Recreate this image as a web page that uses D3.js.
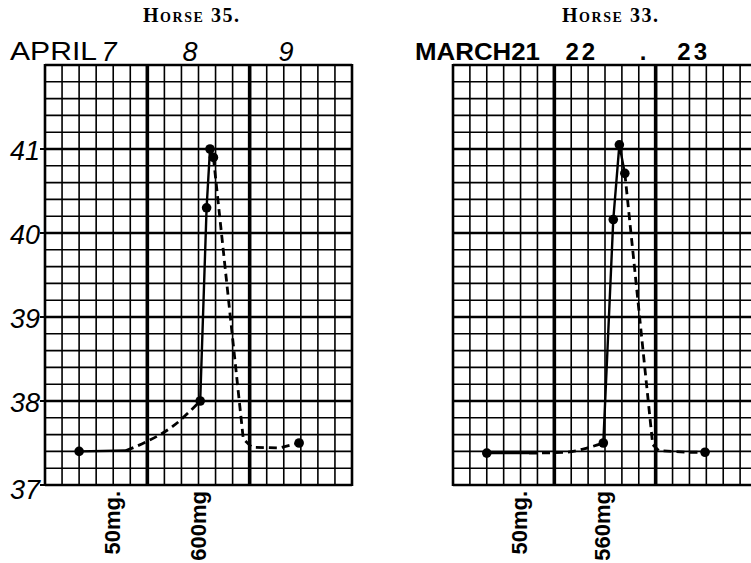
<!DOCTYPE html>
<html>
<head>
<meta charset="utf-8">
<script src="https://cdn.jsdelivr.net/npm/d3@7"></script>
<style>
  html, body { margin: 0; padding: 0; background: #fff; }
  svg { display: block; }
</style>
</head>
<body>
<svg id="chart" width="751" height="563"></svg>
<script>
// ---------- DATA ----------
// hours after midnight of the first day (3 days = 72 h), temperature in °C
const titles = ["Horse 35.", "Horse 33."];
const monthLabels = ["APRIL", "MARCH21"];
const dayLabelsLeft = ["7", "8", "9"];
const dayLabelHoursLeft = [15, 34, 56.5];
const dayLabelsRight = ["22", ".", "23"];
const dayLabelHoursRight = [30.5, 45, 57];
const yTickValues = [41, 40, 39, 38, 37];
const doseLabelsLeft = ["50mg.", "600mg"];
const doseHoursLeft = [17.7, 37.7];
const doseLabelsRight = ["50mg.", "560mg"];
const doseHoursRight = [17.5, 37.2];

// Horse 35 — measured points (dots)
const horse35Hours = [8, 36.4, 37.9, 38.7, 39.5, 59.6];
const horse35Temps = [37.4, 38.0, 40.3, 41.0, 40.9, 37.5];
// Horse 35 — traced path pieces (hours, temps)
const h35SolidStartH = [8, 19];
const h35SolidStartT = [37.4, 37.41];
const h35DashRiseH = [19, 24, 30, 36.4];
const h35DashRiseT = [37.41, 37.52, 37.7, 38.0];
const h35SolidPeakH = [36.4, 37.9, 38.7, 39.5];
const h35SolidPeakT = [38.0, 40.3, 41.0, 40.9];
const h35DashFallH = [39.5, 46.5, 48.5, 55, 59.6];
const h35DashFallT = [40.9, 37.55, 37.45, 37.44, 37.5];

// Horse 33 — measured points (dots)
const horse33Hours = [8, 35.6, 37.96, 39.4, 40.7, 59.7];
const horse33Temps = [37.38, 37.5, 40.16, 41.05, 40.71, 37.39];
const h33SolidStartH = [8, 18];
const h33SolidStartT = [37.38, 37.38];
const h33DashRiseH = [18, 27, 31.7, 35.6];
const h33DashRiseT = [37.38, 37.39, 37.44, 37.5];
const h33SolidPeakH = [35.6, 37.96, 39.4, 40.7];
const h33SolidPeakT = [37.5, 40.16, 41.05, 40.71];
const h33DashFallH = [40.7, 47.3, 48.7, 55, 59.7];
const h33DashFallT = [40.71, 37.48, 37.41, 37.39, 37.39];

// ---------- DRAW ----------
const svg = d3.select("#chart");
const y = d3.scaleLinear().domain([37, 42]).range([485, 65]);
const xL = d3.scaleLinear().domain([0, 72]).range([45, 352]);
const xR = d3.scaleLinear().domain([0, 72]).range([453, 757]);

const zip = (hs, ts) => hs.map((h, i) => [h, ts[i]]);

function drawGrid(x) {
  const g = svg.append("g");
  const hours = d3.range(0, 72.001, 4);
  const temps = d3.range(0, 26).map(i => 37 + i * 0.2);
  temps.forEach(t => {
    const isDeg = Math.abs(t - Math.round(t)) < 1e-6;
    g.append("line")
      .attr("x1", x(0)).attr("x2", x(72))
      .attr("y1", y(t)).attr("y2", y(t))
      .attr("stroke", "#000")
      .attr("stroke-width", isDeg ? 2.4 : 1.6);
  });
  hours.forEach(h => {
    const isDay = h % 24 === 0;
    g.append("line")
      .attr("x1", x(h)).attr("x2", x(h))
      .attr("y1", y(42) - 1).attr("y2", y(37) + 1)
      .attr("stroke", "#000")
      .attr("stroke-width", isDay ? (h === 0 || h === 72 ? 2.6 : 3.6) : 1.6);
  });
  return g;
}

function drawSeries(x, parts, hours, temps) {
  const line = d3.line().x(d => x(d[0])).y(d => y(d[1]));
  const lineCurve = d3.line().x(d => x(d[0])).y(d => y(d[1])).curve(d3.curveMonotoneX);
  parts.forEach(p => {
    svg.append("path")
      .attr("d", (p.curve ? lineCurve : line)(p.pts))
      .attr("fill", "none")
      .attr("stroke", "#000")
      .attr("stroke-width", p.dash ? 2.8 : 2.4)
      .attr("stroke-dasharray", p.dash ? "8,5" : null)
      .attr("stroke-linejoin", "round")
      .attr("stroke-linecap", "butt");
  });
  svg.append("g").selectAll("circle")
    .data(zip(hours, temps))
    .join("circle")
    .attr("cx", d => x(d[0]))
    .attr("cy", d => y(d[1]))
    .attr("r", 4.8)
    .attr("fill", "#000");
}

// Left chart (Horse 35)
drawGrid(xL);
// small ticks + y labels
yTickValues.forEach(v => {
  svg.append("line")
    .attr("x1", xL(0) - 5).attr("x2", xL(0))
    .attr("y1", y(v)).attr("y2", y(v))
    .attr("stroke", "#000").attr("stroke-width", 2);
  svg.append("text")
    .attr("x", xL(0) - 5)
    .attr("y", y(v) + (v === 37 ? 14 : 11))
    .attr("text-anchor", "end")
    .attr("font-family", "Liberation Sans, Arial, sans-serif")
    .attr("font-style", "italic")
    .attr("font-size", 27)
    .attr("fill", "#000")
    .text(v);
});
drawSeries(xL, [
  { pts: zip(h35SolidStartH, h35SolidStartT), dash: false, curve: true },
  { pts: zip(h35DashRiseH, h35DashRiseT), dash: true, curve: true },
  { pts: zip(h35SolidPeakH, h35SolidPeakT), dash: false, curve: false },
  { pts: zip(h35DashFallH, h35DashFallT), dash: true, curve: false }
], horse35Hours, horse35Temps);

// Right chart (Horse 33)
drawGrid(xR);
drawSeries(xR, [
  { pts: zip(h33SolidStartH, h33SolidStartT), dash: false, curve: false },
  { pts: zip(h33DashRiseH, h33DashRiseT), dash: true, curve: true },
  { pts: zip(h33SolidPeakH, h33SolidPeakT), dash: false, curve: false },
  { pts: zip(h33DashFallH, h33DashFallT), dash: true, curve: false }
], horse33Hours, horse33Temps);

// Titles
[[titles[0], 143], [titles[1], 562]].forEach(([t, lx]) => {
  svg.append("text")
    .attr("x", lx).attr("y", 22)
    .attr("font-family", "Liberation Serif, Times New Roman, serif")
    .attr("font-weight", "bold")
    .attr("font-variant", "small-caps")
    .attr("font-size", 20)
    .attr("textLength", 96).attr("lengthAdjust", "spacing")
    .attr("fill", "#000")
    .text(t);
});

// Month / day labels
svg.append("text")
  .attr("x", 10).attr("y", 60)
  .attr("font-family", "Liberation Sans, Arial, sans-serif")
  .attr("font-size", 25)
  .attr("textLength", 87).attr("lengthAdjust", "spacingAndGlyphs")
  .attr("fill", "#000")
  .text(monthLabels[0]);
dayLabelsLeft.forEach((d, i) => {
  svg.append("text")
    .attr("x", xL(dayLabelHoursLeft[i])).attr("y", 61)
    .attr("text-anchor", "middle")
    .attr("font-family", "Liberation Sans, Arial, sans-serif")
    .attr("font-style", "italic")
    .attr("font-size", 27)
    .attr("fill", "#000")
    .text(d);
});
svg.append("text")
  .attr("x", 415).attr("y", 60)
  .attr("font-family", "Liberation Sans, Arial, sans-serif")
  .attr("font-weight", "bold")
  .attr("font-size", 24)
  .attr("textLength", 125).attr("lengthAdjust", "spacingAndGlyphs")
  .attr("fill", "#000")
  .text(monthLabels[1]);
dayLabelsRight.forEach((d, i) => {
  svg.append("text")
    .attr("x", xR(dayLabelHoursRight[i])).attr("y", 60)
    .attr("text-anchor", "middle")
    .attr("font-family", "Liberation Sans, Arial, sans-serif")
    .attr("font-weight", "bold")
    .attr("font-size", 24)
    .attr("letter-spacing", d.length > 1 ? 3 : 0)
    .attr("fill", "#000")
    .text(d);
});

// Dose labels (rotated)
function doseLabels(x, labels, hours) {
  labels.forEach((l, i) => {
    const bx = x(hours[i]);
    svg.append("text")
      .attr("transform", `translate(${bx},${491}) rotate(-90)`)
      .attr("text-anchor", "end")
      .attr("font-family", "Liberation Sans, Arial, sans-serif")
      .attr("font-weight", "bold")
      .attr("font-size", 22)
      .attr("fill", "#000")
      .text(l);
  });
}
doseLabels(xL, doseLabelsLeft, doseHoursLeft);
doseLabels(xR, doseLabelsRight, doseHoursRight);
</script>
</body>
</html>
